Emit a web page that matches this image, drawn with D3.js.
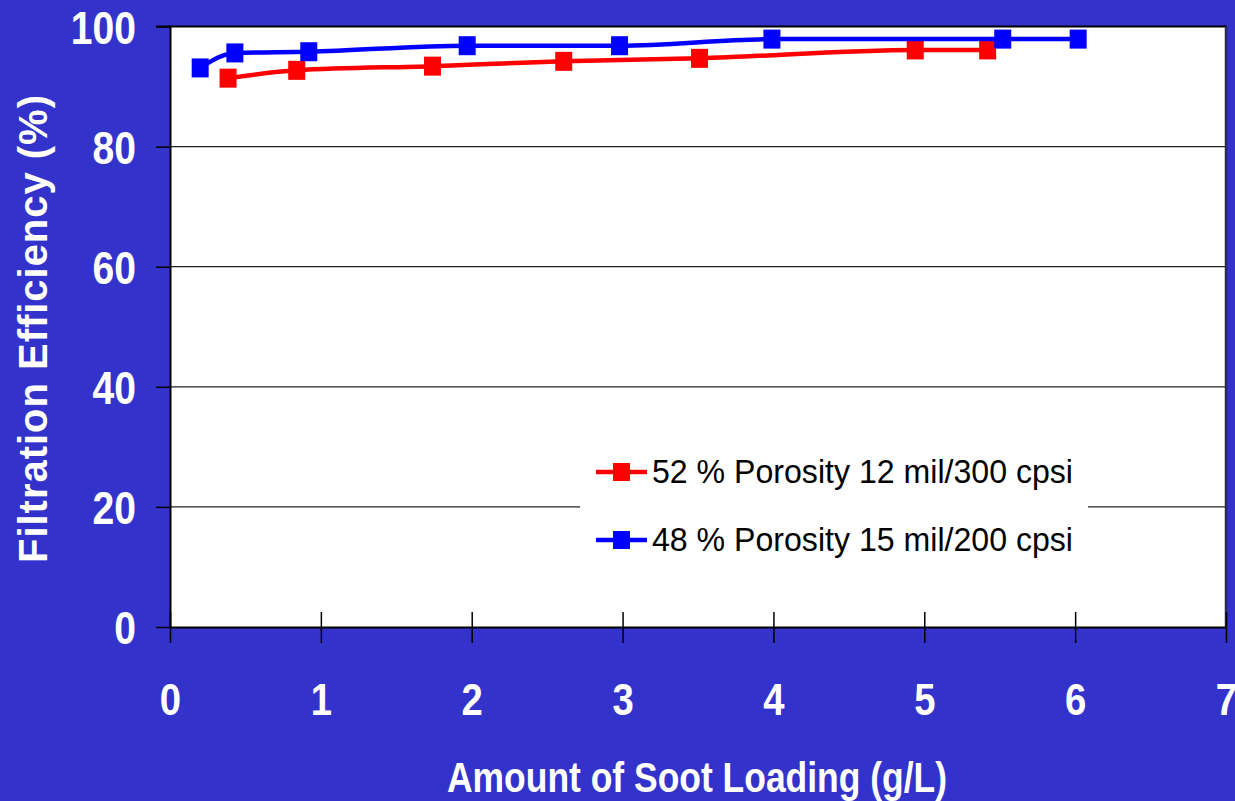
<!DOCTYPE html>
<html>
<head>
<meta charset="utf-8">
<script src="https://cdn.jsdelivr.net/npm/d3@7"></script>
<style>
  html, body { margin: 0; padding: 0; background: #3333cc; }
  svg { display: block; }
</style>
</head>
<body>
<svg id="chart" width="1235" height="801"></svg>
<script>
// Soot loading (g/L) vs. filtration efficiency (%) for two filter substrates
const seriesNames = ["52 % Porosity 12 mil/300 cpsi", "48 % Porosity 15 mil/200 cpsi"];
const seriesColors = ["#ff0000", "#0000ff"];

const redLoading = [0.385, 0.84, 1.74, 2.61, 3.51, 4.94, 5.42];
const redEfficiency = [91.4, 92.7, 93.4, 94.2, 94.7, 96.1, 96.1];

const blueLoading = [0.20, 0.43, 0.92, 1.97, 2.98, 3.99, 5.52, 6.02];
const blueEfficiency = [93.1, 95.6, 95.8, 96.8, 96.8, 97.9, 97.9, 97.9];

const xTicks = [0, 1, 2, 3, 4, 5, 6, 7];
const yTicks = [0, 20, 40, 60, 80, 100];

const xTitle = "Amount of Soot Loading (g/L)";
const yTitle = "Filtration Efficiency (%)";

const svg = d3.select("#chart");
const plotLeft = 170, plotRight = 1226, plotTop = 26.5, plotBottom = 627;

const x = d3.scaleLinear().domain([0, 7]).range([plotLeft, plotRight]);
const y = d3.scaleLinear().domain([0, 100]).range([plotBottom, plotTop]);

// squeeze text horizontally to the narrow look of the labels
function squeeze(sel, ratio) {
  sel.each(function () {
    const len = this.getComputedTextLength();
    d3.select(this).attr("textLength", len * ratio).attr("lengthAdjust", "spacingAndGlyphs");
  });
}

// plot area
svg.append("rect")
  .attr("x", plotLeft).attr("y", plotTop)
  .attr("width", plotRight - plotLeft).attr("height", plotBottom - plotTop)
  .attr("fill", "#ffffff");

// horizontal gridlines
svg.append("g")
  .selectAll("line")
  .data(yTicks.filter(d => d > 0 && d < 100))
  .join("line")
  .attr("x1", plotLeft).attr("x2", plotRight)
  .attr("y1", d => y(d)).attr("y2", d => y(d))
  .attr("stroke", "#222222").attr("stroke-width", 1.2);

// frame: top and right edges
svg.append("line")
  .attr("x1", plotLeft - 14).attr("x2", plotRight + 1)
  .attr("y1", y(100)).attr("y2", y(100))
  .attr("stroke", "#000000").attr("stroke-width", 2);
svg.append("line")
  .attr("x1", plotRight).attr("x2", plotRight)
  .attr("y1", plotTop).attr("y2", plotBottom)
  .attr("stroke", "#2a2a55").attr("stroke-width", 2.5);

// y axis
const yAxis = svg.append("g")
  .attr("transform", `translate(${plotLeft},0)`)
  .call(d3.axisLeft(y).tickValues(yTicks).tickFormat(d3.format("d")).tickSize(14).tickSizeOuter(0));
yAxis.select(".domain").attr("stroke", "#000").attr("stroke-width", 2);
yAxis.selectAll(".tick line").attr("stroke", "#000").attr("stroke-width", 1.5);
yAxis.selectAll(".tick text")
  .attr("x", -34).attr("dy", "0.36em")
  .attr("fill", "#ffffff")
  .attr("font-family", "'Liberation Sans', Arial, sans-serif")
  .attr("font-weight", "bold")
  .attr("font-size", 46)
  .call(squeeze, 0.85);

// x axis with ticks crossing the baseline
const xAxis = svg.append("g")
  .attr("transform", `translate(0,${plotBottom})`)
  .call(d3.axisBottom(x).tickValues(xTicks).tickFormat(d3.format("d")).tickSize(16).tickSizeOuter(0));
xAxis.select(".domain").attr("stroke", "#000").attr("stroke-width", 2);
xAxis.selectAll(".tick line").attr("y1", -15).attr("y2", 16)
  .attr("stroke", "#000").attr("stroke-width", 1.5);
xAxis.selectAll(".tick text")
  .attr("y", 88).attr("dy", 0)
  .attr("fill", "#ffffff")
  .attr("font-family", "'Liberation Sans', Arial, sans-serif")
  .attr("font-weight", "bold")
  .attr("font-size", 45)
  .call(squeeze, 0.85);

// axis titles
svg.append("text")
  .attr("x", 697).attr("y", 792)
  .attr("text-anchor", "middle")
  .attr("fill", "#ffffff")
  .attr("font-family", "'Liberation Sans', Arial, sans-serif")
  .attr("font-weight", "bold")
  .attr("font-size", 43)
  .text(xTitle)
  .attr("textLength", 500).attr("lengthAdjust", "spacingAndGlyphs");

svg.append("text")
  .attr("transform", "translate(47,329) rotate(-90)")
  .attr("text-anchor", "middle")
  .attr("fill", "#ffffff")
  .attr("font-family", "'Liberation Sans', Arial, sans-serif")
  .attr("font-weight", "bold")
  .attr("font-size", 40)
  .text(yTitle)
  .attr("textLength", 468).attr("lengthAdjust", "spacing");

// series
const series = [
  { name: seriesNames[0], color: seriesColors[0], pts: redLoading.map((v, i) => [v, redEfficiency[i]]) },
  { name: seriesNames[1], color: seriesColors[1], pts: blueLoading.map((v, i) => [v, blueEfficiency[i]]) }
];

const line = d3.line()
  .x(d => x(d[0])).y(d => y(d[1]))
  .curve(d3.curveMonotoneX);

const mw = 17, mh = 19;
series.forEach(s => {
  svg.append("path")
    .datum(s.pts)
    .attr("d", line)
    .attr("fill", "none")
    .attr("stroke", s.color)
    .attr("stroke-width", 4.5);
  svg.append("g")
    .selectAll("rect")
    .data(s.pts)
    .join("rect")
    .attr("x", d => x(d[0]) - mw / 2)
    .attr("y", d => y(d[1]) - mh / 2)
    .attr("width", mw).attr("height", mh)
    .attr("fill", s.color);
});

// legend
const legend = svg.append("g");
legend.append("rect")
  .attr("x", 580).attr("y", 440)
  .attr("width", 508).attr("height", 135)
  .attr("fill", "#ffffff");
const rowY = [472, 540];
series.forEach((s, i) => {
  const g = legend.append("g").attr("transform", `translate(0,${rowY[i]})`);
  g.append("line")
    .attr("x1", 596).attr("x2", 647).attr("y1", 0).attr("y2", 0)
    .attr("stroke", s.color).attr("stroke-width", 4.5);
  g.append("rect")
    .attr("x", 613).attr("y", -9)
    .attr("width", 17).attr("height", 18)
    .attr("fill", s.color);
  g.append("text")
    .attr("x", 652).attr("y", 11)
    .attr("fill", "#000000")
    .attr("font-family", "'Liberation Sans', Arial, sans-serif")
    .attr("font-size", 33.5)
    .text(s.name)
    .attr("textLength", 421).attr("lengthAdjust", "spacingAndGlyphs");
});
</script>
</body>
</html>
